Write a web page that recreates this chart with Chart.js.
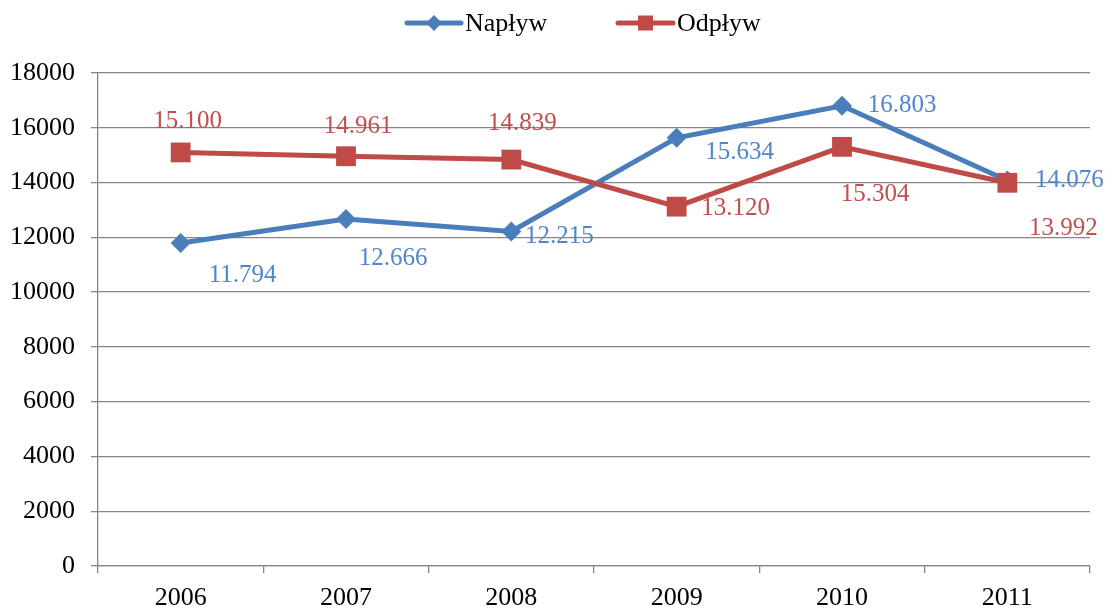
<!DOCTYPE html>
<html>
<head>
<meta charset="utf-8">
<script src="https://cdn.jsdelivr.net/npm/chart.js@4/dist/chart.umd.min.js"></script>
<style>
html,body{margin:0;padding:0;background:#fff;}
canvas{display:block;}
</style>
</head>
<body>
<canvas id="c" width="1112" height="609"></canvas>
<script>
const categories = ['2006','2007','2008','2009','2010','2011'];
const naplyw = [11794, 12666, 12215, 15634, 16803, 14076];
const odplyw = [15100, 14961, 14839, 13120, 15304, 13992];
const seriesNames = ['Napływ', 'Odpływ'];

const FONT = '"Liberation Serif", "Times New Roman", serif';
const BLUE = '#4A7EBB';
const RED = '#BE4B48';
const BLUE_TXT = '#4F86CC';
const RED_TXT = '#C0504D';

// label offsets relative to point (layout only)
const labelOffsets = [
  [[62,32],[47,39],[48,5],[63,15],[60,0],[62,0]],
  [[7,-31],[12,-30],[11,-36],[59,2],[33,48],[56,46]]
];
const labelColors = [BLUE_TXT, RED_TXT];

function fmt(v){
  const th = Math.floor(v/1000);
  const r = String(v%1000).padStart(3,'0');
  return th + '.' + r;
}

const labelPlugin = {
  id: 'valueLabels',
  afterDatasetsDraw(chart){
    const ctx = chart.ctx;
    ctx.save();
    ctx.font = '25px ' + FONT;
    ctx.textAlign = 'center';
    ctx.textBaseline = 'middle';
    chart.data.datasets.forEach((ds, di) => {
      const meta = chart.getDatasetMeta(di);
      meta.data.forEach((pt, i) => {
        const off = labelOffsets[di][i];
        ctx.fillStyle = labelColors[di];
        ctx.fillText(fmt(ds.data[i]), pt.x + off[0], pt.y + off[1]);
      });
    });
    ctx.restore();
  }
};

const legendPlugin = {
  id: 'customLegend',
  afterDraw(chart){
    const ctx = chart.ctx;
    ctx.save();
    const y = 23;
    const items = [
      {x0: 407, x1: 461, color: BLUE, marker: 'diamond', text: seriesNames[0]},
      {x0: 618, x1: 673, color: RED, marker: 'square', text: seriesNames[1]}
    ];
    items.forEach(it => {
      ctx.strokeStyle = it.color;
      ctx.lineWidth = 5;
      ctx.lineCap = 'round';
      ctx.beginPath();
      ctx.moveTo(it.x0, y);
      ctx.lineTo(it.x1, y);
      ctx.stroke();
      const cx = (it.x0 + it.x1) / 2;
      ctx.fillStyle = it.color;
      ctx.beginPath();
      if (it.marker === 'diamond') {
        const r = 8;
        ctx.moveTo(cx - r, y); ctx.lineTo(cx, y - r); ctx.lineTo(cx + r, y); ctx.lineTo(cx, y + r);
        ctx.closePath();
      } else {
        const h = 7.5;
        ctx.rect(cx - h, y - h, 2*h, 2*h);
      }
      ctx.fill();
      ctx.fillStyle = '#000';
      ctx.font = '26px ' + FONT;
      ctx.textAlign = 'left';
      ctx.textBaseline = 'middle';
      ctx.fillText(it.text, it.x1 + 4, y + 1);
    });
    ctx.restore();
  }
};

new Chart(document.getElementById('c'), {
  type: 'line',
  data: {
    labels: categories,
    datasets: [
      {
        label: seriesNames[0],
        data: naplyw,
        borderColor: BLUE,
        backgroundColor: BLUE,
        borderWidth: 5,
        pointStyle: 'rectRot',
        pointRadius: 10,
        pointBorderWidth: 0,
        pointBackgroundColor: BLUE,
        tension: 0,
        order: 2
      },
      {
        label: seriesNames[1],
        data: odplyw,
        borderColor: RED,
        backgroundColor: RED,
        borderWidth: 5,
        pointStyle: 'rect',
        pointRadius: 14,
        pointBorderWidth: 0,
        pointBackgroundColor: RED,
        tension: 0,
        order: 1
      }
    ]
  },
  options: {
    responsive: false,
    animation: false,
    devicePixelRatio: 1,
    layout: { padding: { top: 73, right: 22, left: 0, bottom: 0 } },
    plugins: {
      legend: { display: false },
      tooltip: { enabled: false }
    },
    scales: {
      x: {
        type: 'category',
        offset: true,
        grid: { offset: true, drawOnChartArea: false, drawTicks: true, tickLength: 7, color: '#868686', lineWidth: 1.3 },
        border: { color: '#868686', width: 1.3 },
        ticks: { color: '#000', font: { family: FONT, size: 26 }, padding: 10, maxRotation: 0 },
        afterFit(s){ s.height = 43; }
      },
      y: {
        min: 0,
        max: 18000,
        ticks: { stepSize: 2000, color: '#000', font: { family: FONT, size: 26 }, padding: 16,
                 callback: v => String(v) },
        grid: { color: '#868686', lineWidth: 1.3, tickLength: 7 },
        border: { color: '#868686', width: 1.3 },
        afterFit(s){ s.width = 98; }
      }
    }
  },
  plugins: [labelPlugin, legendPlugin]
});
</script>
</body>
</html>
